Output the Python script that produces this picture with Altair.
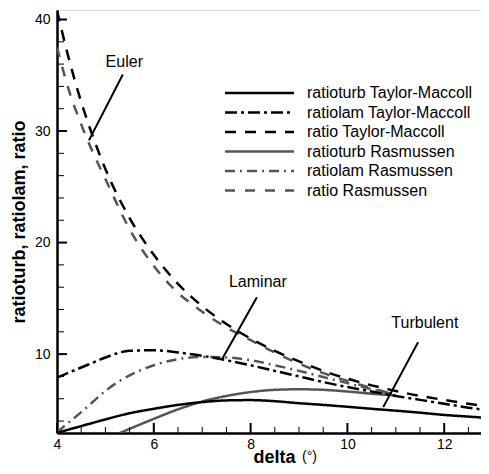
import altair as alt
import pandas as pd

# ---------------- data ----------------
delta_tm = [4.0, 4.25, 4.5, 4.75, 5.0, 5.5, 6.0, 6.5, 7.0, 7.5, 8.0, 8.5, 9.0, 9.5,
            10.0, 10.5, 11.0, 11.5, 12.0, 12.5, 13.0]
ratioturb_tm = [2.93, 3.25, 3.55, 3.85, 4.15, 4.7, 5.1, 5.45, 5.7, 5.85, 5.88, 5.78, 5.6, 5.45,
                5.28, 5.1, 4.93, 4.75, 4.55, 4.4, 4.25]
ratiolam_tm = [7.9, 8.35, 8.8, 9.25, 9.7, 10.3, 10.35, 10.15, 9.85, 9.45, 9.0, 8.5, 8.0, 7.5,
               7.05, 6.65, 6.25, 5.9, 5.55, 5.2, 4.9]
ratio_tm = [40.8, 36.4, 32.6, 29.4, 26.6, 22.2, 18.9, 16.3, 14.3, 12.7, 11.4, 10.3, 9.35, 8.5,
            7.8, 7.2, 6.7, 6.25, 5.9, 5.55, 5.25]

delta_ras = [4.0, 4.25, 4.5, 4.75, 5.0, 5.5, 6.0, 6.5, 7.0, 7.5, 8.0, 8.5, 9.0, 9.5, 10.0, 10.5, 11.0]
ratiolam_ras = [3.0, 3.9, 4.8, 5.75, 6.7, 8.1, 9.0, 9.55, 9.75, 9.7, 9.45, 9.0, 8.5, 7.95, 7.4, 6.85, 6.35]
ratio_ras = [37.5, 33.6, 30.6, 28.0, 25.7, 21.2, 17.9, 15.5, 13.8, 12.4, 11.25, 10.15, 9.15, 8.3, 7.6, 6.95, 6.35]

delta_turb_ras = [5.3, 5.5, 6.0, 6.5, 7.0, 7.5, 8.0, 8.5, 9.0, 9.5, 10.0, 10.5, 11.0]
ratioturb_ras = [2.93, 3.3, 4.2, 5.05, 5.75, 6.25, 6.6, 6.8, 6.85, 6.8, 6.65, 6.45, 6.3]

series_names = ["ratioturb Taylor-Maccoll", "ratiolam Taylor-Maccoll", "ratio Taylor-Maccoll",
                "ratioturb Rasmussen", "ratiolam Rasmussen", "ratio Rasmussen"]

x_major = [4, 6, 8, 10, 12]
x_minor = [4.5, 5, 5.5, 6.5, 7, 7.5, 8.5, 9, 9.5, 10.5, 11, 11.5, 12.5]
y_major = [10, 20, 30, 40]
y_minor = [4, 6, 8, 12, 14, 16, 18, 22, 24, 26, 28, 32, 34, 36, 38]

ann_text = ["Euler", "Laminar", "Turbulent"]
ann_x = [5.39, 8.15, 11.6]
ann_y = [36.2, 16.45, 12.8]
lead_x = [5.36, 8.13, 11.46]
lead_y = [35.07, 15.1, 11.07]
lead_x2 = [4.66, 7.41, 10.74]
lead_y2 = [29.16, 9.55, 5.25]

# ---------------- tables ----------------
rows = []
for name, xs, ys in [(series_names[0], delta_tm, ratioturb_tm),
                     (series_names[1], delta_tm, ratiolam_tm),
                     (series_names[2], delta_tm, ratio_tm),
                     (series_names[3], delta_turb_ras, ratioturb_ras),
                     (series_names[4], delta_ras, ratiolam_ras),
                     (series_names[5], delta_ras, ratio_ras)]:
    for xv, yv in zip(xs, ys):
        rows.append({"delta": xv, "value": yv, "series": name})
df = pd.DataFrame(rows)

legend_df = pd.DataFrame({"series": series_names, "row": list(range(len(series_names)))})
ann_df = pd.DataFrame({"label": ann_text, "delta": ann_x, "value": ann_y})
lead_df = pd.DataFrame({"delta": lead_x, "value": lead_y, "delta2": lead_x2, "value2": lead_y2})

W, H = 424, 423
FONT = "Liberation Sans"

xscale = alt.Scale(domain=[4, 12.76], nice=False, zero=False)
yscale = alt.Scale(domain=[2.93, 40.85], nice=False, zero=False)

x_axis = alt.Axis(values=x_major, ticks=False, tickSize=0, grid=False, labelFlush=False,
                  domainColor="black", domainWidth=2.5, labelFont=FONT, labelFontSize=14,
                  labelColor="black", labelPadding=4, title="delta", titleFont=FONT,
                  titleFontSize=18, titleFontWeight="bold", titleColor="black",
                  titleX=196, titleY=24, titleAlign="left", titleBaseline="middle")
y_axis = alt.Axis(values=y_major, ticks=False, tickSize=0, grid=False, labelFlush=False,
                  domainColor="black", domainWidth=2.5, labelFont=FONT, labelFontSize=14,
                  labelColor="black", labelPadding=7, title="ratioturb, ratiolam, ratio",
                  titleFont=FONT, titleFontSize=18, titleFontWeight="bold", titleColor="black",
                  titleX=-38, titleY=H / 2, titleAlign="center", titleBaseline="middle")

x_enc = alt.X("delta:Q", scale=xscale, axis=x_axis)
y_enc = alt.Y("value:Q", scale=yscale, axis=y_axis)

dash_scale = alt.Scale(domain=series_names,
                       range=[[1, 0], [12, 4, 3, 4], [11, 9], [1, 0], [10, 5, 2, 5], [10, 10]])
width_scale = alt.Scale(domain=series_names, range=[2.5, 2.5, 2.5, 0.9, 0.9, 0.9])
color_scale = alt.Scale(domain=series_names,
                        range=["#000000", "#000000", "#000000", "#555555", "#555555", "#555555"])

style = dict(
    strokeDash=alt.StrokeDash("series:N", scale=dash_scale, legend=None),
    strokeWidth=alt.StrokeWidth("series:N", scale=width_scale, legend=None),
    color=alt.Color("series:N", scale=color_scale, legend=None),
)

base = alt.Chart(df)
thin = base.transform_filter(
    alt.FieldOneOfPredicate(field="series", oneOf=series_names[3:])
).mark_line(clip=True, interpolate="monotone").encode(x=x_enc, y=y_enc, detail="series:N", **style)
thick = base.transform_filter(
    alt.FieldOneOfPredicate(field="series", oneOf=series_names[:3])
).mark_line(clip=True, interpolate="monotone").encode(x=x_enc, y=y_enc, detail="series:N", **style)

# inward ticks
xmaj = alt.Chart(pd.DataFrame({"delta": x_major})).mark_rule(color="black", strokeWidth=2).encode(
    x=x_enc, y=alt.value(H), y2=alt.value(H - 10))
xmin = alt.Chart(pd.DataFrame({"delta": x_minor})).mark_rule(color="black", strokeWidth=1).encode(
    x=x_enc, y=alt.value(H), y2=alt.value(H - 6))
ymaj = alt.Chart(pd.DataFrame({"value": y_major})).mark_rule(color="black", strokeWidth=2).encode(
    y=y_enc, x=alt.value(0), x2=alt.value(10))
ymin = alt.Chart(pd.DataFrame({"value": y_minor})).mark_rule(color="black", strokeWidth=1).encode(
    y=y_enc, x=alt.value(0), x2=alt.value(7))

# annotations
ann = alt.Chart(ann_df).mark_text(font=FONT, fontSize=16, color="black").encode(
    x=x_enc, y=y_enc, text="label:N")
leaders = alt.Chart(lead_df).mark_rule(color="black", strokeWidth=2).encode(
    x=x_enc, y=y_enc, x2="delta2:Q", y2="value2:Q")

deg = alt.Chart(pd.DataFrame({"t": ["(°)"]})).mark_text(
    font=FONT, fontSize=14, color="black", align="left", baseline="middle").encode(
    text="t:N", x=alt.value(245), y=alt.value(447))

# legend (manual)
leg_lines = alt.Chart(legend_df).transform_calculate(py="83 + datum.row * 19.5").mark_rule().encode(
    x=alt.value(168), x2=alt.value(237), y=alt.Y("py:Q", scale=None, axis=None), **style)
leg_text = alt.Chart(legend_df).transform_calculate(py="83 + datum.row * 19.5").mark_text(
    font=FONT, fontSize=16, color="black", align="left", baseline="middle").encode(
    x=alt.value(250), y=alt.Y("py:Q", scale=None, axis=None), text="series:N")

chart = alt.layer(thin, thick, xmin, xmaj, ymin, ymaj, leaders, ann, deg, leg_lines, leg_text).properties(
    width=W, height=H,
    autosize=alt.AutoSizeParams(type="none"),
    padding={"left": 49, "top": 2, "right": 0, "bottom": 33},
).configure_view(stroke=None).configure(background="white")

chart.save("out.html", embed_options={"renderer": "svg", "actions": False})
